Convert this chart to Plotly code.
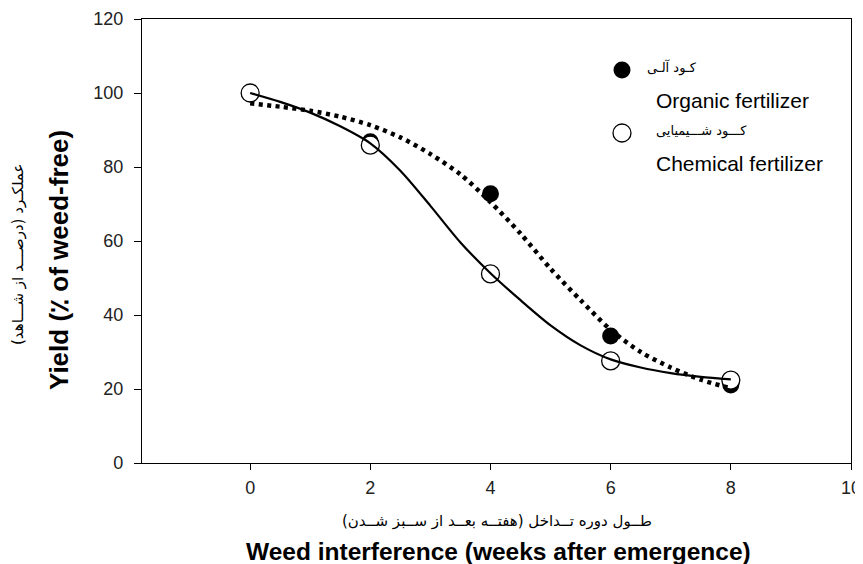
import plotly.graph_objects as go

# Observed data
weeks = [0, 2, 4, 6, 8]
organic_yield = [100, 86.8, 72.8, 34.3, 21.1]
chemical_yield = [100, 85.9, 51.1, 27.6, 22.4]

# Fitted curves
curve_x = [0, 0.5, 1, 1.5, 2, 2.5, 3, 3.5, 4, 4.5, 5, 5.5, 6, 6.5, 7, 7.5, 8]
organic_fit = [97.2, 96.3, 95.2, 93.6, 91.3, 88.0, 83.5, 78.0, 70.5, 62.0, 52.5, 44.0, 36.0, 30.0, 25.8, 22.5, 20.2]
chemical_fit = [100, 97.6, 94.7, 91.0, 86.4, 79.0, 69.5, 59.6, 51.3, 44.0, 37.2, 31.8, 28.0, 25.8, 24.3, 23.3, 22.6]

x_ticks = [0, 2, 4, 6, 8, 10]
y_ticks = [0, 20, 40, 60, 80, 100, 120]

FONT = "Liberation Sans, Arial, sans-serif"

fig = go.Figure()
fig.add_trace(go.Scatter(x=weeks, y=organic_yield, mode="markers",
                         marker=dict(size=17, color="black", line=dict(width=0)),
                         showlegend=False))
fig.add_trace(go.Scatter(x=weeks, y=chemical_yield, mode="markers",
                         marker=dict(size=18, color="white", line=dict(color="black", width=1.3)),
                         showlegend=False))
fig.add_trace(go.Scatter(x=curve_x, y=organic_fit, mode="lines", line_shape="spline",
                         line=dict(color="black", width=4.5, dash="4px,4.5px", smoothing=0.8),
                         showlegend=False))
fig.add_trace(go.Scatter(x=curve_x, y=chemical_fit, mode="lines", line_shape="spline",
                         line=dict(color="black", width=2.2, smoothing=0.8),
                         showlegend=False))

OFF = 8  # page body margin
W, H = 863 - OFF, 564 - OFF
# plot area in page coordinates: x 142..851, y 19..463
L, R, T, B = 142 - OFF, 863 - 851, 19 - OFF, 564 - 463
pw, ph = W - L - R, H - T - B

def px(x):
    return (x - OFF - L) / pw

def py(y):
    return (H - B - (y - OFF)) / ph

shapes = [
    dict(type="circle", xref="paper", yref="paper", xsizemode="pixel", ysizemode="pixel",
         xanchor=px(622), yanchor=py(70), x0=-8.5, x1=8.5, y0=-8.5, y1=8.5,
         fillcolor="black", line=dict(width=0)),
    dict(type="circle", xref="paper", yref="paper", xsizemode="pixel", ysizemode="pixel",
         xanchor=px(622), yanchor=py(133), x0=-9, x1=9, y0=-9, y1=9,
         fillcolor="white", line=dict(color="black", width=1.3)),
]

def ann(text, x, y, size, family=FONT, xanchor="center", angle=0):
    return dict(text=text, x=px(x), y=py(y), xref="paper", yref="paper", showarrow=False,
                xanchor=xanchor, yanchor="middle", textangle=angle,
                font=dict(family=family, size=size, color="black"))

annotations = [
    ann("کـود آلـی", 672, 68, 13, "DejaVu Sans"),
    ann("Organic fertilizer", 654, 100, 21, xanchor="left"),
    ann("کـــود شـــیمیایی", 701, 131, 13, "DejaVu Sans"),
    ann("Chemical fertilizer", 654, 163, 21, xanchor="left"),
    ann("طــول دوره تــداخل (هفتــه بعــد از ســبز شــدن)", 497, 521, 15, "DejaVu Sans"),
    ann("<b>Weed interference (weeks after emergence)</b>", 498, 551, 24.5),
    ann("<b>Yield (٪ of weed-free)</b>", 59, 260, 26, angle=-90),
    ann("عملکـرد (درصـــد از شـــاهد)", 18, 255, 15, "DejaVu Sans", angle=-90),
]

fig.update_layout(
    width=W, height=H,
    margin=dict(l=L, r=R, t=T, b=B, autoexpand=False),
    plot_bgcolor="white", paper_bgcolor="white",
    shapes=shapes, annotations=annotations,
    font=dict(family=FONT, size=18, color="#222"),
    xaxis=dict(range=[-1.8, 10], tickvals=x_ticks, ticks="outside", ticklen=6, tickwidth=1,
               tickcolor="black", showline=True, linecolor="black", linewidth=1.3, mirror=True,
               showgrid=False, zeroline=False, ticklabelstandoff=2,
               tickfont=dict(size=18, family=FONT)),
    yaxis=dict(range=[0, 120], tickvals=y_ticks, ticks="outside", ticklen=7, tickwidth=1,
               tickcolor="black", showline=True, linecolor="black", linewidth=1.3, mirror=True,
               showgrid=False, zeroline=False, ticklabelstandoff=7,
               tickfont=dict(size=18, family=FONT)),
)

fig.write_html(
    "out.html",
    post_script="document.documentElement.style.overflow='hidden';document.body.style.overflow='hidden';",
)
